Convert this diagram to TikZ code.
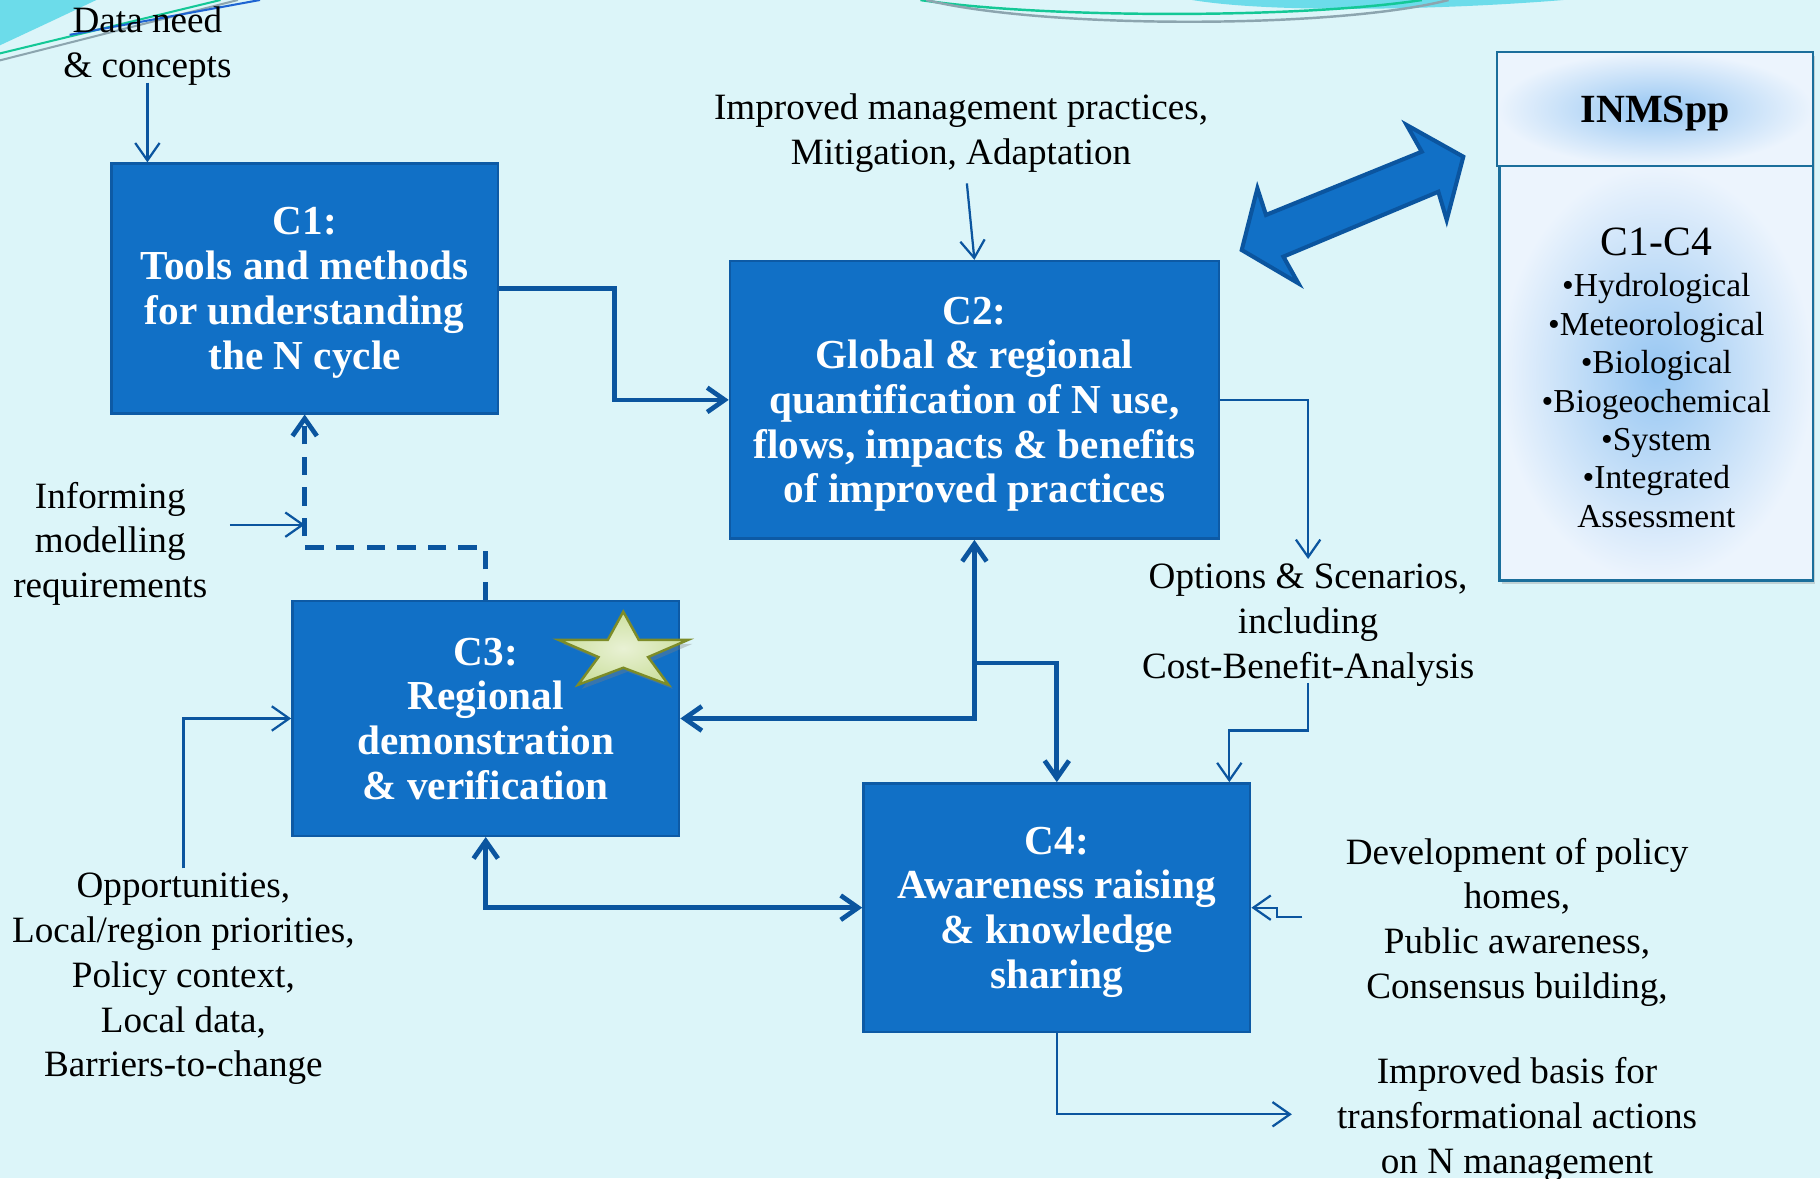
\documentclass[tikz,border=0pt]{standalone}
\usepackage{fontspec}
\setmainfont{Liberation Serif}
\usetikzlibrary{arrows.meta,shadows}

\definecolor{bgcyan}{RGB}{220,245,249}
\definecolor{boxblue}{RGB}{17,112,198}
\definecolor{boxedge}{RGB}{13,90,165}
\definecolor{arrblue}{RGB}{11,85,159}
\definecolor{swoosh}{RGB}{108,220,234}
\definecolor{swgreen}{RGB}{20,200,150}
\definecolor{swgray}{RGB}{140,165,175}
\definecolor{swblue}{RGB}{30,100,210}
\definecolor{inmsedge}{RGB}{27,110,155}
\definecolor{inmsin}{RGB}{150,198,242}
\definecolor{inmsout}{RGB}{236,244,253}
\definecolor{stargreen}{RGB}{205,224,160}
\definecolor{staredge}{RGB}{125,140,40}

\begin{document}
\begin{tikzpicture}[x=0.01cm, y=-0.01cm,
  >={Straight Barb[length=1.5mm,width=2.1mm]},
  cbox/.style={draw=boxedge, line width=0.6pt, fill=boxblue, text=white, align=center,
    font=\fontsize{10.1}{10.96}\selectfont\bfseries, inner sep=0pt, text depth=0pt},
  txt/.style={align=center, font=\fontsize{9.1}{10.96}\selectfont, inner sep=1pt, text depth=0pt},
  thinarr/.style={->, draw=arrblue, line width=0.55pt},
  thickarr/.style={->, draw=arrblue, line width=1.15pt},
  inmsbox/.style={draw=inmsedge, line width=0.55pt, inner color=inmsin, outer color=inmsout,
    drop shadow={opacity=0.3, shadow xshift=0.5pt, shadow yshift=-0.9pt}, inner sep=0pt}]

\useasboundingbox (0,0) rectangle (1568,1015);
\fill[bgcyan] (0,0) rectangle (1568,1015);

% slide swooshes
\fill[swoosh] (0,0) -- (83,0) .. controls (45,18) .. (0,39) -- cycle;
\draw[swgreen, line width=0.5pt] (0,46) -- (190,0);
\draw[swgray, line width=0.5pt] (0,52) -- (205,0);
\draw[swblue, line width=0.5pt] (60,30) -- (224,0);
\fill[swoosh] (1027,0) .. controls (1100,12) and (1250,8) .. (1347,0) -- cycle;
\draw[swgreen, line width=0.6pt] (793,0) .. controls (900,16) and (1120,16) .. (1225,0);
\draw[swgray, line width=0.6pt] (798,0) .. controls (900,25) and (1150,25) .. (1248,0);

% components
\node[cbox, minimum width=3.33cm, minimum height=2.15cm] (c1) at (262.5,248.5)
  {C1:\\Tools and methods\\for understanding\\the N cycle};
\node[cbox, minimum width=4.21cm, minimum height=2.39cm] (c2) at (839.5,344.5)
  {C2:\\Global \& regional\\quantification of N use,\\flows, impacts \& benefits\\of improved practices};
\node[cbox, minimum width=3.33cm, minimum height=2.02cm] (c3) at (418.5,619)
  {C3:\\Regional\\demonstration\\\& verification};
\node[cbox, minimum width=3.33cm, minimum height=2.14cm] (c4) at (910.5,782)
  {C4:\\Awareness raising\\\& knowledge\\sharing};

% star on C3
\filldraw[draw=staredge, line width=0.6pt, inner color=white!55!stargreen, outer color=stargreen,
  drop shadow={opacity=0.35, shadow xshift=1pt, shadow yshift=-1pt}]
  (537,527) -- (550.3,551.2) -- (593,551.2) -- (558.4,566.1) -- (576,590)
  -- (537,575.3) -- (498,590) -- (515.6,566.1) -- (481,551.2) -- (523.7,551.2) -- cycle;

% side texts
\node[txt] (data) at (127,36.5) {Data need\\\& concepts};
\node[txt] (impr) at (828,111.5) {Improved management practices,\\Mitigation, Adaptation};
\node[txt] (inform) at (95,465) {Informing\\modelling\\requirements};
\node[txt] (opt) at (1127,535) {Options \& Scenarios,\\including\\Cost-Benefit-Analysis};
\node[txt] (opp) at (158,840) {Opportunities,\\Local/region priorities,\\Policy context,\\Local data,\\Barriers-to-change};
\node[txt] (dev) at (1307,791) {Development of policy\\homes,\\Public awareness,\\Consensus building,};
\node[txt] (basis) at (1307,961) {Improved basis for\\transformational actions\\on N management};

\coordinate (imprtail) at (833,158);
\coordinate (informtail) at (198,452);
\coordinate (devtail) at (1122,790);
\coordinate (basishead) at (1113,960);

% INMSpp panel
\node[inmsbox, minimum width=2.72cm, minimum height=0.98cm, text depth=0pt,
  font=\fontsize{9.8}{11}\selectfont\bfseries] (inmshead) at (1426,94) {INMSpp};
\node[inmsbox, minimum width=2.70cm, minimum height=3.57cm] (inmsbody) at (1427,321.5) {};
\node[font=\fontsize{10.2}{12}\selectfont] (cc) at (1427,208) {C1-C4};
\node[align=center, font=\fontsize{8.2}{9.4}\selectfont, text depth=0pt] (models) at (1427,345)
  {•Hydrological\\•Meteorological\\•Biological\\•Biogeochemical\\•System\\•Integrated\\Assessment};

% link arrow to INMSpp
\filldraw[fill=boxblue, draw=arrblue, line width=1pt]
  (1069.8,215.4) -- (1083.3,162.3) -- (1090.7,185.2) -- (1224.9,130.7) -- (1211.9,107.7)
  -- (1260.7,135) -- (1246.4,189.5) -- (1239.2,165.2) -- (1105.7,221.1) -- (1118.6,244.1) -- cycle;

% thin inputs and outputs
\draw[thinarr] (data.south) -- (c1.north -| data.south);
\draw[thinarr] (imprtail) -- (c2.north);
\draw[thinarr] (informtail) -- (informtail -| c1.south);
\draw[thinarr] (c2.east) -| (opt.north);
\draw[thinarr] (opt.south) -- ++(0,41) -| ([xshift=-0.19cm]c4.north east);
\draw[thinarr] (opp.north) |- (c3.west);
\draw[thinarr] (devtail) -- ++(-22,0) |- (c4.east);
\draw[thinarr] (c4.south) |- (basishead);

% links between components
\draw[thickarr] (c1.east) -- ++(99,0) |- (c2.west);
\draw[thickarr, dash pattern=on 4.5pt off 3pt] (c3.north) -- ++(0,-45) -| (c1.south);
\draw[thickarr, <->] (c2.south) |- (c3.east);
\draw[thickarr] ([yshift=-1.06cm]c2.south) -| (c4.north);
\draw[thickarr, <->] (c3.south) |- (c4.west);

\end{tikzpicture}
\end{document}
